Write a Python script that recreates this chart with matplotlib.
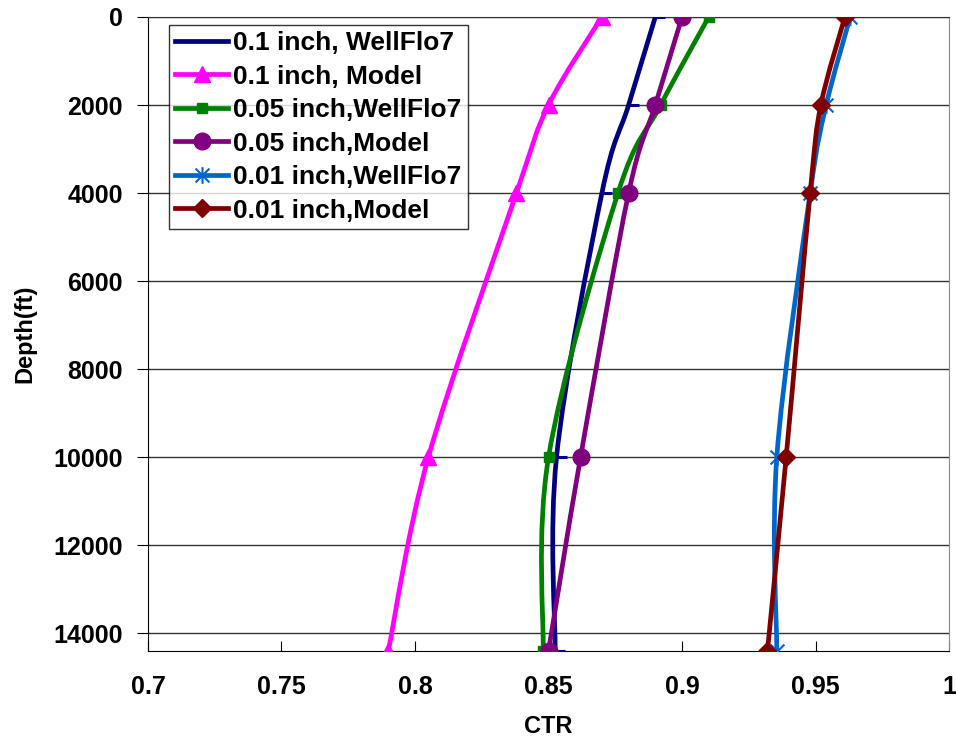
import matplotlib
matplotlib.use('Agg')
import matplotlib.pyplot as plt
import numpy as np
from matplotlib.path import Path
from matplotlib.patches import PathPatch
from matplotlib.lines import Line2D

plt.rcParams.update({'font.family': 'Liberation Sans', 'font.weight': 'bold'})

depth = [0, 2000, 4000, 10000, 14400]

ctr_01_wellflo = [0.890, 0.880, 0.870, 0.853, 0.8525]
ctr_01_model = [0.870, 0.850, 0.838, 0.805, 0.790]
ctr_005_wellflo = [0.910, 0.892, 0.876, 0.850, 0.848]
ctr_005_model = [0.900, 0.890, 0.880, 0.862, 0.850]
ctr_001_wellflo = [0.963, 0.954, 0.948, 0.9355, 0.9355]
ctr_001_model = [0.961, 0.952, 0.948, 0.939, 0.932]

labels = ['0.1 inch, WellFlo7', '0.1 inch, Model', '0.05 inch,WellFlo7',
          '0.05 inch,Model', '0.01 inch,WellFlo7', '0.01 inch,Model']

# markers: a dash pointing right, and an x with a vertical bar
dash = Path([(0, 0), (1, 0)], [Path.MOVETO, Path.LINETO])
star = Path([(-1, -1), (1, 1), (-1, 1), (1, -1), (0, -1.2), (0, 1.2)],
            [Path.MOVETO, Path.LINETO, Path.MOVETO, Path.LINETO, Path.MOVETO, Path.LINETO])

series = [
    (ctr_01_wellflo, '#000080', dict(marker=dash, ms=14, mew=2.2)),
    (ctr_01_model, '#FF00FF', dict(marker='^', ms=11)),
    (ctr_005_wellflo, '#008000', dict(marker='s', ms=7)),
    (ctr_005_model, '#800080', dict(marker='o', ms=12)),
    (ctr_001_wellflo, '#0066CC', dict(marker=star, ms=12, mew=1.5)),
    (ctr_001_model, '#800000', dict(marker='D', ms=9)),
]


def smooth_path(x, y):
    # cubic bezier through the points (catmull-rom tangents)
    pts = np.column_stack([x, y]).astype(float)
    ext = np.vstack([pts[0], pts, pts[-1]])
    verts = [tuple(pts[0])]
    codes = [Path.MOVETO]
    for i in range(len(pts) - 1):
        p0, p1, p2, p3 = ext[i], ext[i + 1], ext[i + 2], ext[i + 3]
        c1 = p1 + (p2 - p0) / 6.0
        c2 = p2 - (p3 - p1) / 6.0
        verts += [tuple(c1), tuple(c2), tuple(p2)]
        codes += [Path.CURVE4] * 3
    return Path(verts, codes)


fig = plt.figure(figsize=(9.56, 7.44), dpi=100)
ax = fig.add_axes([0.1548, 0.125, 0.8379, 0.8522])

handles = []
z = 3
for (vals, color, mk), label in zip(series, labels):
    ax.add_patch(PathPatch(smooth_path(vals, depth), facecolor='none', edgecolor=color,
                           lw=3.4, transform=ax.transData, zorder=z, capstyle='round'))
    ax.plot(vals, depth, linestyle='none', color=color, mfc=color, mec=color,
            zorder=z + 0.5, **mk)
    handles.append(Line2D([], [], color=color, lw=3.4, mfc=color, mec=color, **mk))
    z += 1

ax.set_xlim(0.7, 1.0)
ax.set_ylim(14400, 0)
ax.set_xticks([0.7, 0.75, 0.8, 0.85, 0.9, 0.95, 1.0])
ax.set_xticklabels(['0.7', '0.75', '0.8', '0.85', '0.9', '0.95', '1'])
ax.set_yticks(range(0, 14001, 2000))
ax.tick_params(axis='x', direction='in', length=7, labelsize=18, pad=17)
ax.tick_params(axis='y', direction='out', length=8, labelsize=18, pad=10)
ax.yaxis.grid(True, color='#333333', lw=1)
ax.set_axisbelow(True)
ax.spines['right'].set_color('#888888')
ax.spines['top'].set_color('#333333')

ax.set_xlabel('CTR', fontsize=17, fontweight='bold', labelpad=12)
ax.set_ylabel('Depth(ft)', fontsize=17, fontweight='bold', labelpad=12)

leg = ax.legend(handles, labels, loc='upper left', bbox_to_anchor=(0.026, 0.988),
                fontsize=19, frameon=True, fancybox=False, edgecolor='black',
                handlelength=2.0, handletextpad=0.2, labelspacing=0.36,
                borderpad=0.25, borderaxespad=0)
leg.get_frame().set_linewidth(1)
leg.set_zorder(20)

plt.savefig('out.png', dpi=100)
